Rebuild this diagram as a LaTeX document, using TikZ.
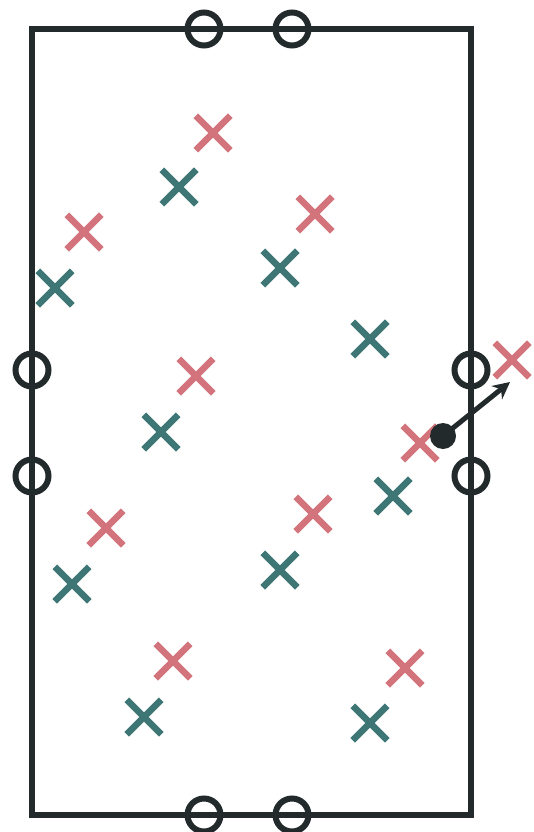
\documentclass[tikz,border=0pt]{standalone}
\usetikzlibrary{arrows.meta,shapes.misc}
\definecolor{ink}{HTML}{232A2C}
\definecolor{rosered}{HTML}{D3747D}
\definecolor{deepteal}{HTML}{3E7676}
\tikzset{
 port/.style={circle,draw=ink,line width=6pt,minimum size=33pt,inner sep=0pt},
 redx/.style={cross out,draw=rosered,line width=6.5pt,minimum size=28pt,inner sep=0pt},
 tealx/.style={cross out,draw=deepteal,line width=6.5pt,minimum size=28pt,inner sep=0pt}
}

\begin{document}
\begin{tikzpicture}[x=1pt,y=-1pt,>={Stealth[length=17pt,width=17pt]}]
 \useasboundingbox (0,0) rectangle (533,832);
 % box
 \draw[ink,line width=6.5pt] (32,29) rectangle (471,815);
 % openings
 \foreach \n/\x/\y in {t1/204/29,t2/292/29,b1/204/815,b2/292/815,
                       l1/32/370,l2/32/476,r1/471/370,r2/471/476}
  \node[port] (\n) at (\x,\y) {};
 % particles
 \foreach \n/\x/\y in {a/213/133,b/84/232,c/315/214,d/196/376,e/420/443,
                       f/512/360,g/106/528,h/313/514,i/173/661,j/405/668}
  \node[redx] (r\n) at (\x,\y) {};
 \foreach \n/\x/\y in {a/179/187,b/55/288,c/280/268,d/370/339,e/161/432,
                       f/393/496,g/72/584,h/280/570,i/144/717,j/370/723}
  \node[tealx] (g\n) at (\x,\y) {};
 % tracked particle
 \node[circle,fill=ink,minimum size=26pt,inner sep=0pt] (dot) at (443,436) {};
 \coordinate (tip) at (510,382);
 \draw[ink,line width=5pt,->] (dot.center) -- (tip);
\end{tikzpicture}
\end{document}
